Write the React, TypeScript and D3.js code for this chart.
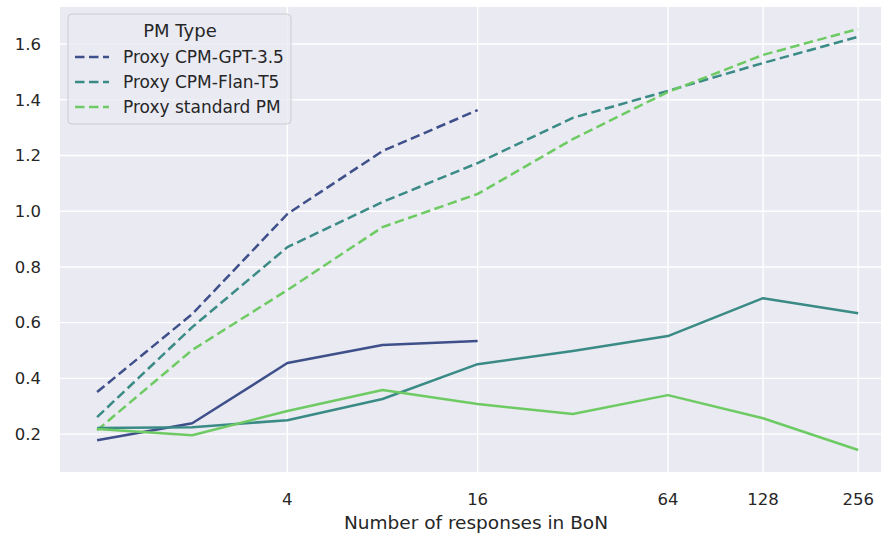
import React from "react";
import * as d3 from "d3";

const xs = [1, 2, 4, 8, 16, 32, 64, 128, 256];
const xTicks = [4, 16, 64, 128, 256];
const yTicks = [0.2, 0.4, 0.6, 0.8, 1.0, 1.2, 1.4, 1.6];

const gptProxy = [0.351, 0.631, 0.99, 1.216, 1.363];
const gptGold = [0.178, 0.239, 0.455, 0.52, 0.534];
const flanProxy = [0.261, 0.584, 0.871, 1.033, 1.173, 1.335, 1.432, 1.532, 1.626];
const flanGold = [0.222, 0.225, 0.25, 0.326, 0.451, 0.498, 0.552, 0.688, 0.634];
const stdProxy = [0.214, 0.502, 0.717, 0.943, 1.062, 1.259, 1.428, 1.561, 1.654];
const stdGold = [0.218, 0.196, 0.283, 0.358, 0.308, 0.272, 0.34, 0.257, 0.143];

const legendLabels = ["Proxy CPM-GPT-3.5", "Proxy CPM-Flan-T5", "Proxy standard PM"];
const colors = ["#3e4f8a", "#3a8a86", "#6ecb63"];

const W = 883;
const H = 535;
const left = 60, right = 881, top = 7, bottom = 472;

export default function App() {
  const x = d3.scaleLog().base(2).domain([Math.pow(2, -0.39), Math.pow(2, 8.24)]).range([left, right]);
  const y = d3.scaleLinear().domain([0.064, 1.733]).range([bottom, top]);
  const line = d3.line<number>().x((_, i) => x(xs[i])).y((d) => y(d));

  const series = [
    { data: gptProxy, color: colors[0], dashed: true },
    { data: flanProxy, color: colors[1], dashed: true },
    { data: stdProxy, color: colors[2], dashed: true },
    { data: gptGold, color: colors[0], dashed: false },
    { data: flanGold, color: colors[1], dashed: false },
    { data: stdGold, color: colors[2], dashed: false },
  ];

  const font = "'DejaVu Sans', sans-serif";
  return (
    <svg width={W} height={H} style={{ position: "absolute", left: 0, top: 0, background: "#fff" }}>
      <rect x={left} y={top} width={right - left} height={bottom - top} fill="#eaeaf2" />
      {yTicks.map((t) => (
        <g key={"y" + t}>
          <line x1={left} x2={right} y1={y(t)} y2={y(t)} stroke="#fff" strokeWidth={1.4} />
          <text x={41} y={y(t)} dy="0.35em" textAnchor="end" fontFamily={font} fontSize={16.5} fill="#262626">
            {t.toFixed(1)}
          </text>
        </g>
      ))}
      {xTicks.map((t) => (
        <g key={"x" + t}>
          <line x1={x(t)} x2={x(t)} y1={top} y2={bottom} stroke="#fff" strokeWidth={1.4} />
          <text x={x(t)} y={505} textAnchor="middle" fontFamily={font} fontSize={16.5} fill="#262626">
            {t}
          </text>
        </g>
      ))}
      {series.map((s, i) => (
        <path
          key={i}
          d={line(s.data) || ""}
          fill="none"
          stroke={s.color}
          strokeWidth={2.5}
          strokeDasharray={s.dashed ? "9.5,4.5" : undefined}
          strokeLinejoin="round"
        />
      ))}
      <text x={476} y={529} textAnchor="middle" fontFamily={font} fontSize={18.5} fill="#262626">
        Number of responses in BoN
      </text>
      <g>
        <rect x={68} y={14} width={223} height={110} rx={4} fill="#eaeaf2" fillOpacity={0.8} stroke="#cccccc" strokeWidth={1} />
        <text x={180} y={36.5} textAnchor="middle" fontFamily={font} fontSize={18} fill="#262626">
          PM Type
        </text>
        {legendLabels.map((lab, i) => (
          <g key={lab}>
            <line x1={75} x2={109} y1={57 + i * 25} y2={57 + i * 25} stroke={colors[i]} strokeWidth={2.5} strokeDasharray="9.5,4.5" />
            <text x={123} y={57 + i * 25} dy="0.35em" fontFamily={font} fontSize={17} fill="#262626">
              {lab}
            </text>
          </g>
        ))}
      </g>
    </svg>
  );
}
